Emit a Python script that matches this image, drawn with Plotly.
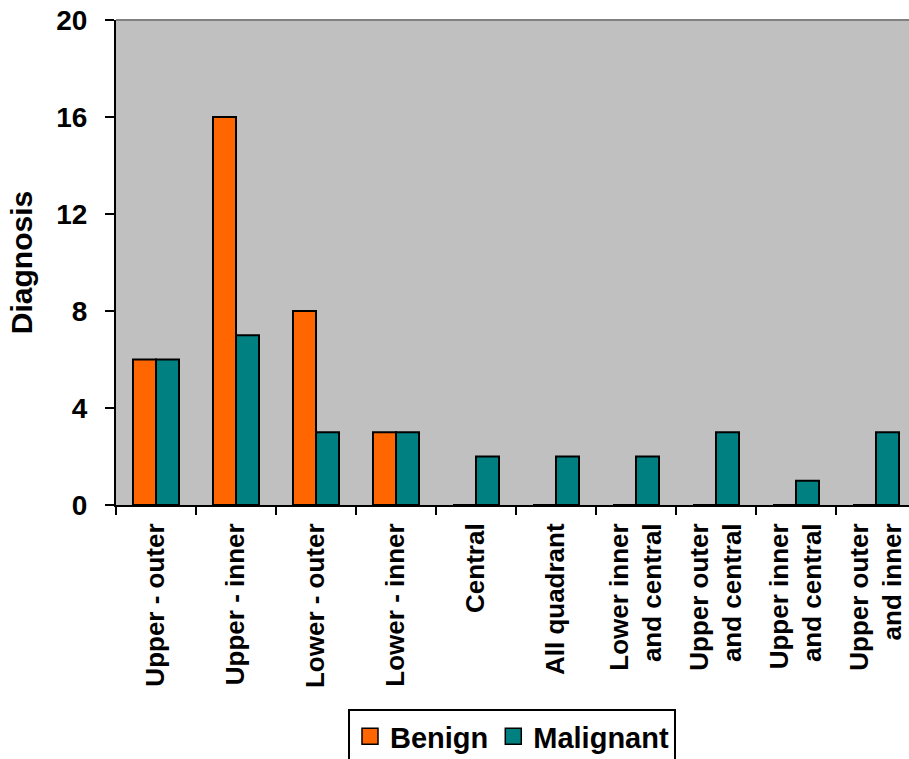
import plotly.graph_objects as go

# Tumour location categories and counts per diagnosis
locations = [
    "Upper - outer", "Upper - inner", "Lower - outer", "Lower - inner",
    "Central", "All quadrant", "Lower inner<br>and central",
    "Upper outer<br>and central", "Upper inner<br>and central",
    "Upper outer<br>and inner",
]
benign = [6, 16, 8, 3, 0, 0, 0, 0, 0, 0]
malignant = [6, 7, 3, 3, 2, 2, 2, 3, 1, 3]
y_ticks = [0, 4, 8, 12, 16, 20]

BENIGN_COLOR = "#FF6600"
MALIGNANT_COLOR = "#008080"
FONT = "Liberation Sans, Arial, sans-serif"

fig = go.Figure()
fig.add_trace(go.Bar(
    x=locations, y=benign, name="Benign", showlegend=False,
    marker=dict(color=BENIGN_COLOR, line=dict(color="black", width=2)),
))
fig.add_trace(go.Bar(
    x=locations, y=malignant, name="Malignant", showlegend=False,
    marker=dict(color=MALIGNANT_COLOR, line=dict(color="black", width=2)),
))

# Legend entries with larger square swatches
for name, color in [("Benign", BENIGN_COLOR), ("Malignant", MALIGNANT_COLOR)]:
    fig.add_trace(go.Scatter(
        x=[None], y=[None], mode="markers", name=name,
        marker=dict(symbol="square", size=16, color=color,
                    line=dict(color="black", width=1.5)),
    ))

fig.update_layout(
    width=909, height=759,
    margin=dict(l=116, r=0, t=20, b=254, autoexpand=False),
    paper_bgcolor="white",
    plot_bgcolor="#C0C0C0",
    barmode="group",
    bargap=0.425,
    bargroupgap=0,
    font=dict(family=FONT, color="black", weight="bold"),
    showlegend=True,
    legend=dict(
        orientation="h",
        x=(348 - 116) / 793, xanchor="left",
        y=-0.4206, yanchor="top",
        bgcolor="white", bordercolor="black", borderwidth=2,
        font=dict(size=29, family=FONT, weight="bold"),
        itemwidth=30,
        tracegroupgap=0,
    ),
)

# The plot frame runs slightly past the right edge of the page
fig.update_xaxes(
    type="category",
    range=[-0.5, 9.4125],
    showline=True, linecolor="black", linewidth=2,
    ticks="outside", ticklen=8, tickwidth=2, tickcolor="black",
    tickson="boundaries",
    tickangle=-90,
    tickfont=dict(size=26, family=FONT, weight="bold"),
    ticklabelstandoff=6,
    showgrid=False, zeroline=False,
)
fig.update_yaxes(
    range=[0, 20],
    tickvals=y_ticks,
    showline=True, linecolor="black", linewidth=2,
    ticks="outside", ticklen=9, tickwidth=2, tickcolor="black",
    tickfont=dict(size=28, family=FONT, weight="bold"),
    ticklabelstandoff=12,
    showgrid=False, zeroline=False,
    title=dict(text="Diagnosis", font=dict(size=30, family=FONT, weight="bold"),
               standoff=15),
)

# Grey frame along the top of the plot area
fig.add_shape(type="line", xref="paper", yref="paper",
              x0=0, x1=1, y0=1, y1=1,
              line=dict(color="#808080", width=2))

fig.write_html("out.html")
